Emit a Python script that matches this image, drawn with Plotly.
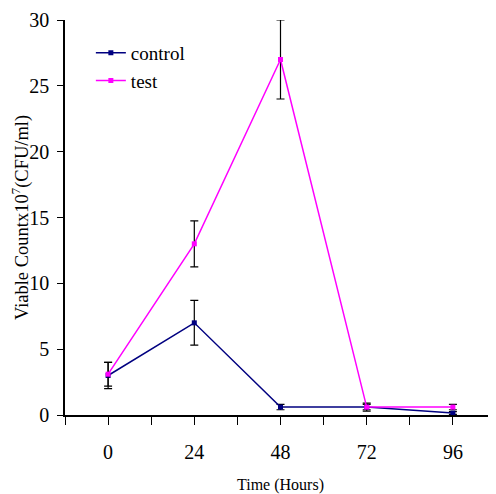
import plotly.graph_objects as go

hours = [0, 24, 48, 72, 96]
control = [3.0, 7.0, 0.6, 0.6, 0.15]
control_err = [1.0, 1.7, 0.2, 0.2, 0.1]
test = [3.1, 13.0, 27.0, 0.6, 0.6]
test_err = [0.9, 1.75, 3.0, 0.3, 0.2]
x_tick_text = ["0", "24", "48", "72", "96"]
y_tick_vals = [0, 5, 10, 15, 20, 25, 30]

FF = "Liberation Serif"

fig = go.Figure()
fig.add_trace(go.Scatter(
    x=hours, y=control, name="control", mode="lines+markers",
    line=dict(color="#000080", width=1.5),
    marker=dict(symbol="square", size=5, color="#000080"),
    error_y=dict(type="data", array=control_err, color="black", thickness=1.2, width=4),
))
fig.add_trace(go.Scatter(
    x=hours, y=test, name="test", mode="lines+markers",
    line=dict(color="#FF00FF", width=1.5),
    marker=dict(symbol="square", size=5, color="#FF00FF"),
    error_y=dict(type="data", array=test_err, color="black", thickness=1.2, width=4),
))

fig.update_layout(
    width=488, height=486,
    margin=dict(l=57, r=0, t=12, b=79, autoexpand=False),
    paper_bgcolor="white", plot_bgcolor="white",
    font=dict(family=FF, color="black", size=20),
    showlegend=True,
    legend=dict(x=0.06, y=0.965, xanchor="left", yanchor="top",
                font=dict(size=19, family=FF, color="black"), bgcolor="rgba(0,0,0,0)",
                tracegroupgap=0, itemwidth=30),
    xaxis=dict(
        range=[-12, 108], tickmode="array", tickvals=hours, ticktext=x_tick_text,
        tickfont=dict(family=FF, size=20, color="black"),
        showgrid=False, zeroline=False, showline=True, linecolor="black", linewidth=1.5,
        ticks="outside", ticklen=8, tickwidth=1.2, tickcolor="black",
        minor=dict(ticks="outside", tick0=-12, dtick=12, ticklen=8, tickwidth=1.2,
                   tickcolor="black", showgrid=False),
        ticklabelstandoff=10, automargin=False,
        title=dict(text="Time (Hours)", font=dict(size=16, family=FF, color="black"), standoff=18),
    ),
    yaxis=dict(
        range=[0, 30], tickmode="array", tickvals=y_tick_vals,
        tickfont=dict(family=FF, size=20, color="black"),
        showgrid=False, zeroline=False, showline=True, linecolor="black", linewidth=1.5,
        ticks="outside", ticklen=6, tickwidth=1.2, tickcolor="black",
        ticklabelstandoff=4, automargin=False,
        title=dict(text="Viable Countx10<sup>7</sup>(CFU/ml)",
                   font=dict(size=18.5, family=FF, color="black"), standoff=6),
    ),
)

fig.write_html("out.html")
